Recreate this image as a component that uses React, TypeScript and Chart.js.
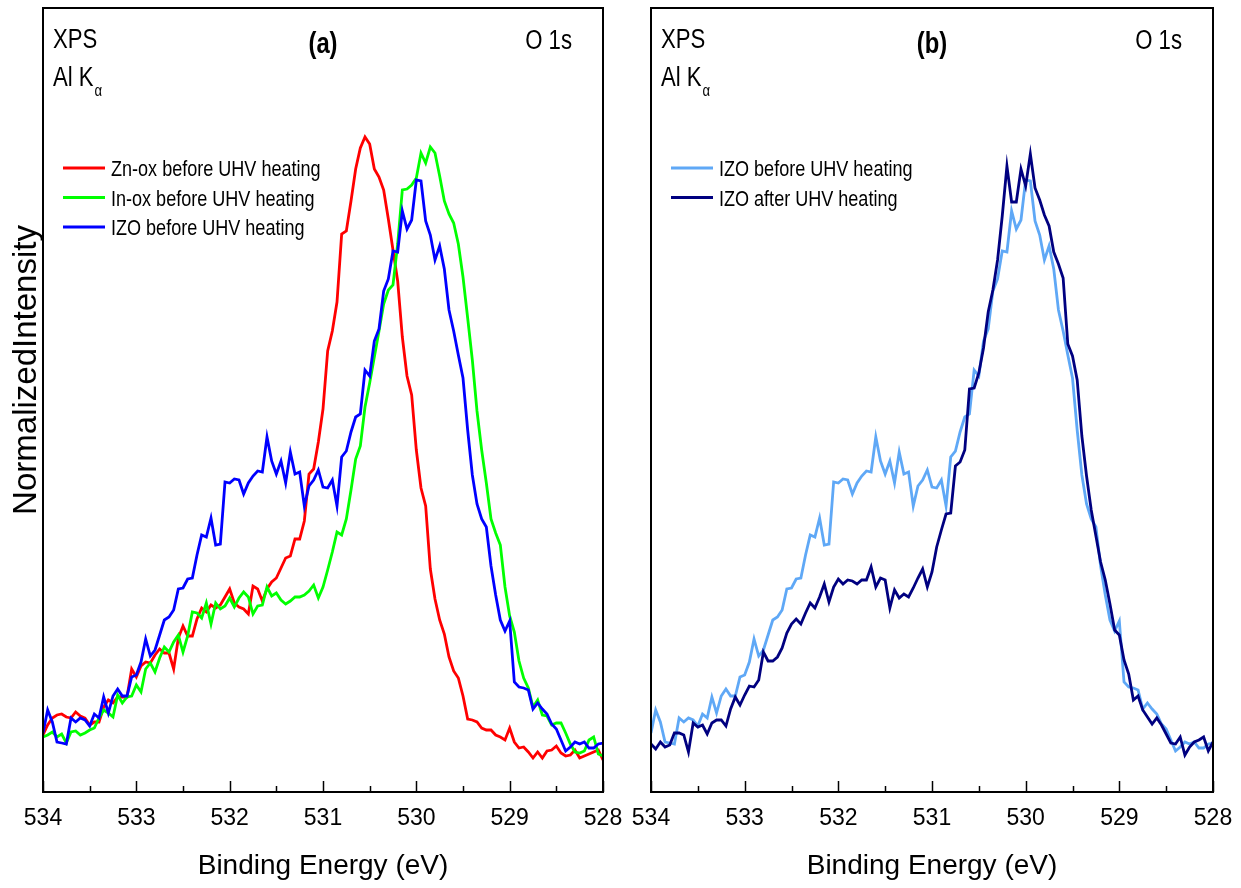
import React, { useEffect, useRef } from "react";
import { Chart, registerables } from "chart.js";

Chart.register(...registerables);

const SANS = '"Liberation Sans", Arial, sans-serif';
const NARROW_FACTOR = 0.82;

// Binding-energy grid of the spectra (eV), 534 -> 528 in 0.05 eV steps
const START_EV = 534;
const STEP_EV = 0.05;
const AXIS_MIN_EV = 528;
const AXIS_MAX_EV = 534;
const xTickValues = [534, 533, 532, 531, 530, 529, 528];

// Normalized intensity (arbitrary units)
const znOxBefore = [
  57, 67, 74, 77, 78, 75, 74, 80, 76, 74,
  67, 70, 70, 85, 92, 89, 95, 95, 95, 123,
  115, 126, 130, 129, 137, 143, 139, 139, 123, 154,
  166, 156, 156, 173, 184, 180, 187, 184, 187, 195,
  203, 189, 185, 183, 178, 206, 203, 191, 203, 210,
  214, 224, 234, 236, 253, 253, 271, 318, 323, 350,
  383, 441, 461, 490, 558, 561, 591, 623, 644, 655,
  648, 623, 615, 602, 573, 542, 511, 455, 416, 397,
  342, 304, 286, 223, 193, 172, 158, 135, 121, 114,
  96, 73, 72, 70, 64, 62, 62, 57, 55, 52,
  64, 50, 44, 45, 40, 34, 40, 34, 41, 42,
  46, 39, 36, 37, 42, 34, 36, 38, 40, 42, 32,
];

const inOxBefore = [
  55, 57, 60, 55, 58, 49, 60, 61, 57, 59,
  62, 64, 74, 82, 79, 75, 97, 89, 95, 96,
  107, 100, 123, 129, 120, 134, 145, 140, 150, 157,
  140, 156, 180, 179, 174, 189, 168, 189, 183, 186,
  194, 185, 194, 200, 195, 178, 186, 187, 205, 196,
  199, 192, 188, 191, 195, 195, 197, 201, 207, 194,
  205, 222, 240, 260, 257, 273, 302, 333, 346, 385,
  409, 435, 461, 488, 502, 507, 548, 602, 603, 607,
  614, 639, 629, 645, 639, 616, 591, 578, 569, 548,
  515, 474, 432, 381, 342, 309, 273, 259, 247, 205,
  176, 160, 131, 114, 104, 85, 92, 77, 76, 67,
  69, 69, 59, 48, 40, 39, 41, 52, 55, 38, 36,
];

const izoBefore = [
  59, 82, 70, 50, 49, 48, 74, 70, 74, 72,
  66, 78, 74, 95, 79, 96, 103, 96, 96, 115,
  117, 130, 153, 136, 142, 157, 172, 175, 182, 203,
  204, 213, 214, 237, 257, 255, 274, 247, 248, 310,
  309, 313, 312, 298, 309, 316, 321, 320, 355, 331,
  318, 331, 309, 340, 318, 320, 286, 306, 312, 322,
  305, 304, 312, 286, 335, 341, 360, 375, 378, 422,
  416, 451, 463, 501, 513, 541, 540, 581, 563, 572,
  612, 611, 571, 557, 532, 546, 523, 482, 461, 437,
  414, 362, 317, 288, 273, 265, 226, 197, 172, 161,
  171, 110, 105, 104, 102, 83, 89, 83, 78, 68,
  63, 52, 41, 45, 50, 48, 50, 44, 44, 48, 49,
];

const izoAfter = [
  48, 43, 50, 45, 47, 59, 59, 57, 40, 69,
  65, 67, 58, 69, 72, 72, 66, 83, 95, 87,
  97, 106, 105, 112, 140, 131, 131, 135, 144, 159,
  168, 173, 168, 179, 189, 184, 195, 208, 190, 205,
  213, 208, 212, 211, 208, 212, 212, 225, 205, 214,
  212, 184, 202, 194, 198, 195, 204, 214, 223, 205,
  220, 245, 262, 278, 279, 326, 330, 342, 403, 404,
  419, 444, 480, 502, 532, 576, 626, 590, 590, 623,
  606, 638, 604, 592, 577, 566, 540, 528, 514, 448,
  436, 412, 356, 316, 282, 256, 230, 212, 188, 162,
  157, 132, 118, 92, 96, 82, 75, 68, 74, 67,
  58, 49, 48, 55, 37, 45, 50, 52, 55, 41, 50,
];

const bindingEnergy = izoBefore.map((_, i) => +(START_EV - STEP_EV * i).toFixed(2));

type Series = { label: string; values: number[]; color: string };
type PanelSpec = {
  tag: string;
  series: Series[];
  yTitle: string | null;
  width: number;
  padLeft: number;
  padRight: number;
};

const panelA: PanelSpec = {
  tag: "(a)",
  series: [
    { label: "Zn-ox before UHV heating", values: znOxBefore, color: "#ff0000" },
    { label: "In-ox before UHV heating", values: inOxBefore, color: "#00ff00" },
    { label: "IZO before UHV heating", values: izoBefore, color: "#0000ff" },
  ],
  yTitle: "NormalizedIntensity",
  width: 640,
  padLeft: 43,
  padRight: 37,
};

const panelB: PanelSpec = {
  tag: "(b)",
  series: [
    { label: "IZO before UHV heating", values: izoBefore, color: "#5fa8f6" },
    { label: "IZO after UHV heating", values: izoAfter, color: "#000080" },
  ],
  yTitle: null,
  width: 621,
  padLeft: 31,
  padRight: 28,
};

function narrowText(
  ctx: CanvasRenderingContext2D,
  text: string,
  x: number,
  y: number,
  size: number,
  align: CanvasTextAlign,
  weight = "",
  baseline: CanvasTextBaseline = "alphabetic"
) {
  ctx.save();
  ctx.font = `${weight} ${size}px ${SANS}`.trim();
  ctx.translate(x, y);
  ctx.scale(NARROW_FACTOR, 1);
  ctx.textAlign = align;
  ctx.textBaseline = baseline;
  ctx.fillStyle = "#000";
  ctx.fillText(text, 0, 0);
  const w = ctx.measureText(text).width * NARROW_FACTOR;
  ctx.restore();
  return w;
}

function decorPlugin(spec: PanelSpec) {
  return {
    id: "decor",
    afterDraw(chart: any) {
      const { ctx, chartArea: ca, scales } = chart;
      const xs = scales.x;
      ctx.save();
      // frame
      ctx.strokeStyle = "#000";
      ctx.lineWidth = 2;
      ctx.strokeRect(ca.left, ca.top, ca.right - ca.left, ca.bottom - ca.top);
      // inward tick marks on the bottom axis
      ctx.lineWidth = 1.5;
      for (let v = AXIS_MIN_EV; v <= AXIS_MAX_EV + 1e-9; v += 0.5) {
        const px = Math.round(xs.getPixelForValue(v)) + 0.5;
        const len = Math.abs(v - Math.round(v)) < 1e-6 ? 11 : 6;
        ctx.beginPath();
        ctx.moveTo(px, ca.bottom);
        ctx.lineTo(px, ca.bottom - len);
        ctx.stroke();
      }
      // annotations
      narrowText(ctx, "XPS", ca.left + 10, 48, 27, "left");
      const w = narrowText(ctx, "Al K", ca.left + 10, 86, 27, "left");
      narrowText(ctx, "α", ca.left + 10 + w + 1, 96, 16, "left");
      narrowText(ctx, "O 1s", ca.right - 31, 49, 27, "right");
      narrowText(ctx, spec.tag, (ca.left + ca.right) / 2, 53, 29, "center", "bold");
      // legend
      chart.data.datasets.forEach((ds: any, k: number) => {
        const y = 168 + k * 29.5;
        ctx.strokeStyle = ds.borderColor;
        ctx.lineWidth = 3;
        ctx.beginPath();
        ctx.moveTo(ca.left + 20, y);
        ctx.lineTo(ca.left + 62, y);
        ctx.stroke();
        narrowText(ctx, ds.label, ca.left + 68, y + 8, 22, "left");
      });
      // y title
      if (spec.yTitle) {
        ctx.save();
        ctx.translate(36, 370);
        ctx.rotate(-Math.PI / 2);
        ctx.textAlign = "center";
        ctx.textBaseline = "alphabetic";
        ctx.font = `33px ${SANS}`;
        ctx.fillStyle = "#000";
        ctx.fillText(spec.yTitle, 0, 0);
        ctx.restore();
      }
      ctx.restore();
    },
  };
}

function buildConfig(spec: PanelSpec): any {
  const n = spec.series.length;
  return {
    type: "line",
    data: {
      datasets: spec.series.map((s, k) => ({
        label: s.label,
        data: bindingEnergy.map((e, i) => ({ x: e, y: s.values[i] })),
        borderColor: s.color,
        backgroundColor: s.color,
        borderWidth: 2.8,
        pointRadius: 0,
        tension: 0,
        fill: false,
        order: n - k,
      })),
    },
    options: {
      animation: false,
      responsive: false,
      devicePixelRatio: 1,
      layout: { padding: { left: spec.padLeft, right: spec.padRight, top: 8, bottom: 0 } },
      plugins: { legend: { display: false }, tooltip: { enabled: false } },
      scales: {
        x: {
          type: "linear",
          reverse: true,
          min: AXIS_MIN_EV,
          max: AXIS_MAX_EV,
          afterBuildTicks: (scale: any) => {
            scale.ticks = xTickValues.map((v) => ({ value: v }));
          },
          afterFit: (scale: any) => {
            scale.height = 96;
            scale.paddingLeft = 0;
            scale.paddingRight = 0;
          },
          grid: { display: false, drawTicks: false },
          border: { display: false },
          ticks: {
            padding: 13,
            color: "#000",
            maxRotation: 0,
            autoSkip: false,
            font: { family: SANS, size: 23 },
            callback: (v: any) => String(Math.round(Number(v))),
          },
          title: {
            display: true,
            text: "Binding Energy (eV)",
            color: "#000",
            font: { family: SANS, size: 28 },
            padding: { top: 0, bottom: 5 },
          },
        },
        y: {
          display: false,
          min: 0,
          max: 784,
        },
      },
    },
    plugins: [decorPlugin(spec)],
  };
}

function Panel({ spec, left }: { spec: PanelSpec; left: number }) {
  const ref = useRef<HTMLCanvasElement>(null);
  useEffect(() => {
    const chart = new Chart(ref.current as HTMLCanvasElement, buildConfig(spec));
    return () => chart.destroy();
  }, [spec]);
  return (
    <canvas
      ref={ref}
      width={spec.width}
      height={888}
      style={{ position: "absolute", left, top: 0, width: spec.width, height: 888 }}
    />
  );
}

export default function App() {
  return (
    <div
      style={{
        position: "absolute",
        left: 0,
        top: 0,
        width: 1241,
        height: 888,
        background: "#fff",
        overflow: "hidden",
      }}
    >
      <Panel spec={panelA} left={0} />
      <Panel spec={panelB} left={620} />
    </div>
  );
}
